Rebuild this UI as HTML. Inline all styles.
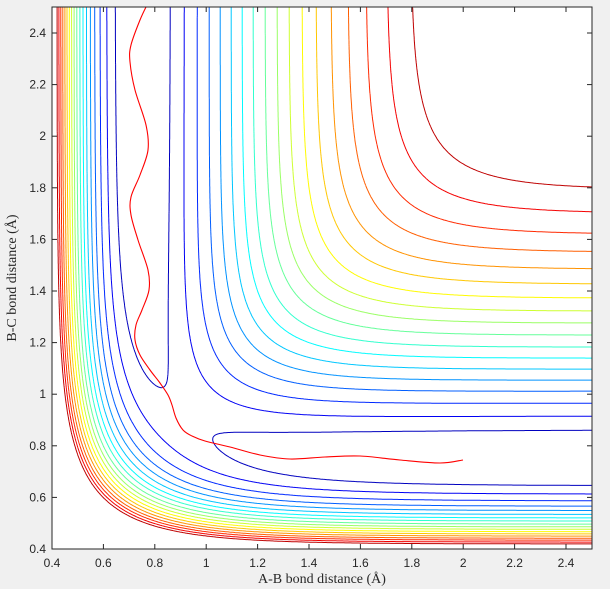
<!DOCTYPE html>
<html><head><meta charset="utf-8"><style>
html,body{margin:0;padding:0;background:#f0f0f0;}
svg{display:block}
.t{font-family:"Liberation Sans",sans-serif;font-size:12px;fill:#262626}
.l{font-family:"Liberation Serif",serif;font-size:14px;fill:#262626}
</style></head><body>
<svg id="s" width="610" height="589" xmlns="http://www.w3.org/2000/svg">
<defs><clipPath id="c"><rect x="52" y="7" width="540" height="542"/></clipPath></defs>
<rect x="52" y="7" width="540" height="542" fill="#fff"/>
<g id="cont" clip-path="url(#c)" fill="none" stroke-width="1"></g>
<path id="traj" clip-path="url(#c)" fill="none" stroke="#ff0000" stroke-width="1.1" d=""/>
<rect x="52" y="7" width="540" height="542" fill="none" stroke="#262626" stroke-width="1"/>
<g id="ax"></g>
<text class="l" x="322" y="583" text-anchor="middle">A-B bond distance (Å)</text>
<text class="l" transform="translate(16,278) rotate(-90)" text-anchor="middle">B-C bond distance (Å)</text>
</svg>
<script>
const NS="http://www.w3.org/2000/svg";
const D=4.746,a=1.942,r0=0.742,k=0.18;
function QJ(r){const e1=Math.exp(-a*(r-r0)),e2=e1*e1,f=D/4/(1+k);
return [f*((3+k)*e2-(2+6*k)*e1), f*((1+3*k)*e2-(6+2*k)*e1)];}
function V(x,y){const A=QJ(x),B=QJ(y),C=QJ(x+y);
return A[0]+B[0]+C[0]-Math.sqrt(0.5*((A[1]-B[1])**2+(B[1]-C[1])**2+(C[1]-A[1])**2));}
const px=x=>52+(x-0.4)*257, py=y=>549-(y-0.4)*258;
const ys=[430,416,403,391,380,369,358,347,335,323,311,298,284,269,252,234,213,189];
const levels=ys.map(p=>V(4.0,0.4+(549-p)/258));
function jet(t){const r=Math.min(Math.max(Math.min(4*t-1.5,-4*t+4.5),0),1),
g=Math.min(Math.max(Math.min(4*t-0.5,-4*t+3.5),0),1),b=Math.min(Math.max(Math.min(4*t+0.5,-4*t+2.5),0),1);
return `rgb(${Math.round(r*255)},${Math.round(g*255)},${Math.round(b*255)})`;}
const N=400,x0=0.38,x1=2.52,h=(x1-x0)/N;
const G=[];for(let i=0;i<=N;i++){G[i]=[];for(let j=0;j<=N;j++)G[i][j]=V(x0+i*h,x0+j*h);}
const g=document.getElementById('cont');
levels.forEach((L,li)=>{let d="";
for(let i=0;i<N;i++)for(let j=0;j<N;j++){
const v=[G[i][j],G[i+1][j],G[i+1][j+1],G[i][j+1]];
const P=[[i,j],[i+1,j],[i+1,j+1],[i,j+1]];const pts=[];
for(let e=0;e<4;e++){const A=v[e],B=v[(e+1)%4];
if((A<L)!==(B<L)){const t=(L-A)/(B-A),pa=P[e],pb=P[(e+1)%4];
pts.push([x0+(pa[0]+t*(pb[0]-pa[0]))*h,x0+(pa[1]+t*(pb[1]-pa[1]))*h]);}}
for(let q=0;q+1<pts.length;q+=2)d+=`M${px(pts[q][0]).toFixed(1)} ${py(pts[q][1]).toFixed(1)}L${px(pts[q+1][0]).toFixed(1)} ${py(pts[q+1][1]).toFixed(1)}`;}
const p=document.createElementNS(NS,'path');p.setAttribute('d',d);
p.setAttribute('stroke',jet(li/(levels.length-1)*0.875+0.0625));g.appendChild(p);});
// smooth trajectory (Catmull-Rom)
const T=[[147,5],[140,20],[131,45],[130,62],[135,90],[146,125],[148,150],[140,175],[131,197],[131,215],[138,240],[148,270],[149,290],[142,310],[136,325],[135,340],[140,355],[150,370],[160,383],[168,395],[172,405],[176,418],[183,430],[192,436],[205,441],[230,447],[260,455],[290,459],[325,457],[360,456],[400,460],[440,463],[463,460]];
let td=`M${T[0][0]} ${T[0][1]}`;
for(let i=0;i<T.length-1;i++){const p0=T[Math.max(i-1,0)],p1=T[i],p2=T[i+1],p3=T[Math.min(i+2,T.length-1)];
td+=`C${(p1[0]+(p2[0]-p0[0])/6).toFixed(1)} ${(p1[1]+(p2[1]-p0[1])/6).toFixed(1)} ${(p2[0]-(p3[0]-p1[0])/6).toFixed(1)} ${(p2[1]-(p3[1]-p1[1])/6).toFixed(1)} ${p2[0]} ${p2[1]}`;}
document.getElementById('traj').setAttribute('d',td);
const ax=document.getElementById('ax');let s="";
for(let i=0;i<=10;i++){const v=0.4+0.2*i,lab=(Math.round(v*10)/10).toString();
const X=px(v),Y=py(v);
s+=`<line x1="${X}" y1="549" x2="${X}" y2="544" stroke="#262626"/><line x1="${X}" y1="7" x2="${X}" y2="12" stroke="#262626"/>`;
s+=`<line x1="52" y1="${Y}" x2="57" y2="${Y}" stroke="#262626"/><line x1="592" y1="${Y}" x2="587" y2="${Y}" stroke="#262626"/>`;
s+=`<text class="t" x="${X}" y="567" text-anchor="middle">${lab}</text>`;
s+=`<text class="t" x="46" y="${Y+4}" text-anchor="end">${lab}</text>`;}
ax.innerHTML=s;
</script>
</body></html>
